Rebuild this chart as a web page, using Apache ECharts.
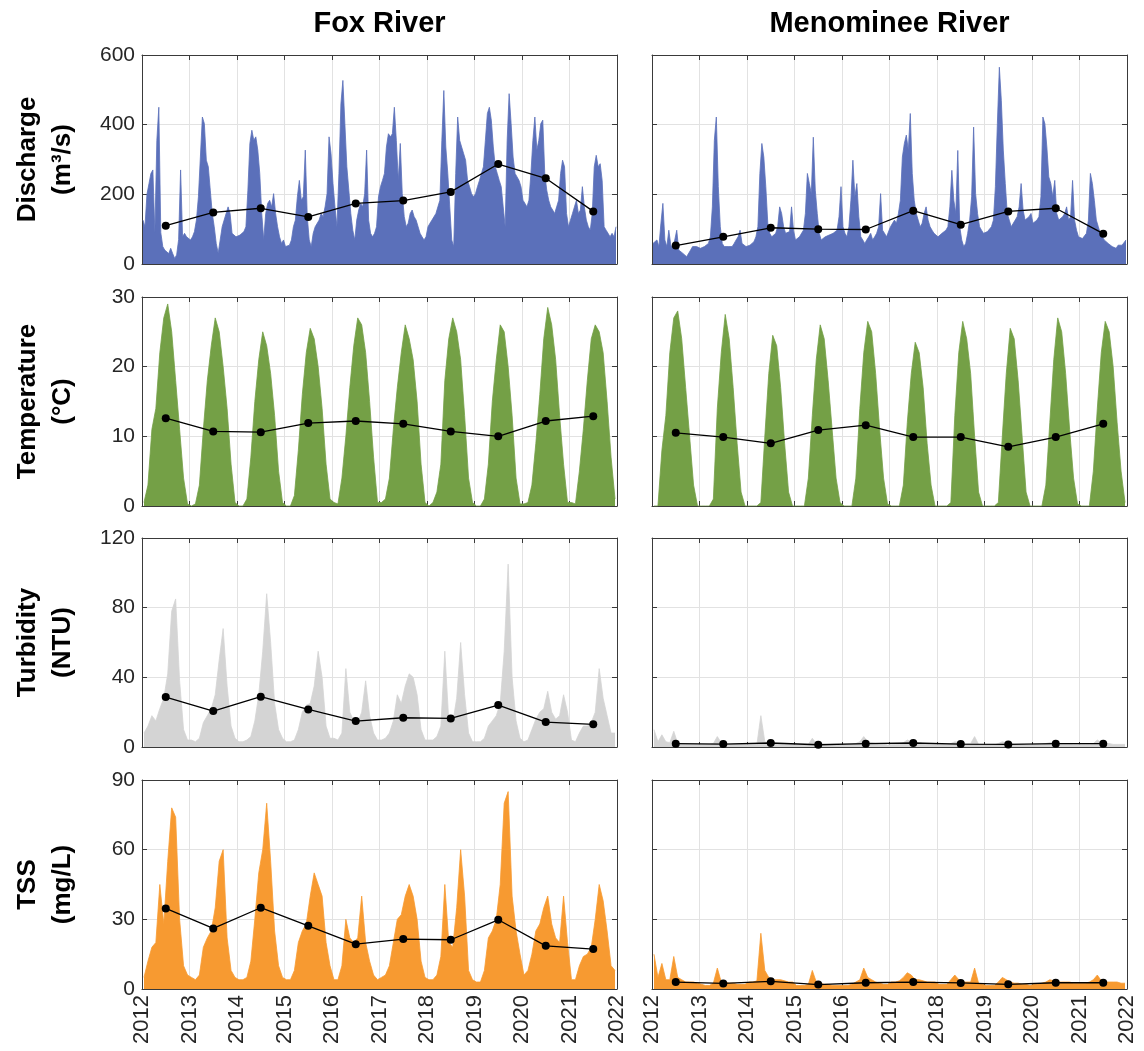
<!DOCTYPE html>
<html><head><meta charset="utf-8">
<script src="https://cdn.jsdelivr.net/npm/echarts@6/dist/echarts.min.js"></script>
<style>html,body{margin:0;padding:0;background:#fff}#c{width:1144px;height:1051px}</style>
</head><body><div id="c"></div>
<script>
// ---------------- DATA ----------------
const years = [2012, 2013, 2014, 2015, 2016, 2017, 2018, 2019, 2020, 2021];
const xTickLabels = ['2012','2013','2014','2015','2016','2017','2018','2019','2020','2021','2022'];
const columnTitles = ['Fox River', 'Menominee River'];
const rowNames = ['Discharge\n(m³/s)', 'Temperature\n(°C)', 'Turbidity\n(NTU)', 'TSS\n(mg/L)'];
const yMax = [600, 30, 120, 90];
const yStep = [200, 10, 40, 30];

// Fox River discharge, half-monthly (24 per year)
const foxDischarge = [
 126,107,200,230,260,270,90,355,450,90,50,40,45,30,45,30,16,26,70,270,78,88,78,83,
 69,78,93,126,193,307,422,403,298,279,212,145,107,59,31,69,107,126,145,164,145,88,83,78,
 78,83,88,93,107,212,346,384,355,365,327,260,145,69,145,174,183,164,202,145,107,78,59,69,
 50,50,54,69,107,126,193,240,183,193,327,136,69,50,88,107,107,126,145,136,164,202,365,317,
 231,164,107,260,460,527,403,279,212,145,97,69,126,155,174,164,202,327,126,88,78,88,107,193,
 222,240,260,336,374,365,374,450,355,240,346,202,136,107,117,145,155,136,126,107,88,78,69,78,
 107,117,126,126,145,164,183,355,498,336,260,164,69,50,260,422,355,336,317,298,240,222,202,193,
 202,222,240,260,279,355,432,450,413,336,279,260,240,222,164,107,355,489,403,307,260,250,240,222,
 183,174,164,183,260,355,422,327,355,403,413,260,212,183,164,155,145,164,183,260,298,279,145,107,
 126,145,164,183,145,155,222,164,126,107,97,145,279,312,279,288,240,107,97,88,78,88,78,107
];
// Menominee River discharge, half-monthly
const menDischarge = [
 59,54,69,50,117,174,69,50,97,54,45,69,97,40,35,31,26,21,26,40,50,45,50,45,
 45,50,50,54,59,78,164,355,422,222,107,59,50,45,50,54,50,59,69,78,97,59,54,50,
 50,54,59,64,78,107,260,346,307,222,117,88,78,78,88,107,164,145,107,88,83,93,164,97,
 69,73,78,78,97,145,260,231,202,364,212,145,88,69,69,78,78,83,88,88,88,97,136,222,
 107,88,78,107,183,298,193,231,136,78,69,59,69,78,88,69,78,88,107,202,97,88,78,83,
 107,107,126,117,145,183,307,346,370,327,432,260,183,145,126,107,117,145,164,126,107,97,88,83,
 78,83,88,88,97,107,164,269,183,145,326,107,69,50,59,88,126,193,393,202,145,107,97,88,
 88,93,97,107,126,222,403,565,470,327,231,145,126,107,107,126,136,164,231,155,126,126,136,145,
 117,122,126,136,193,422,403,336,250,231,193,240,145,126,126,136,145,164,126,136,240,126,97,78,
 78,73,78,88,126,260,231,183,126,107,88,78,69,69,59,54,50,50,45,54,50,54,59,69
];
// Temperature, monthly (12 per year)
const foxTemp = [
 0.5,3,11,14,22,27,29,25,18,11,4,0.3,
 0,0.3,3,11,18,23,27,25,20,14,6,0.5,
 0,0,1,7,15,21,25,23,19,13,5,0.5,
 0,0,1.5,8,16,22,25.5,24,20,14,6,1,
 0.5,0.3,4,10,17,23,27,26,22,15,7,0.5,
 0.5,1,4,11,17,22,26,24,21,15,6,0.5,
 0,0.5,2,6,18,24,27,25,21,13,4,0.5,
 0,0,1,6,15,21,26,25,20,13,4,0.3,
 0.3,0.5,3,9,16,24,28.5,26,21,13,6,0.5,
 0.5,0.3,5,11,18,24,26,25,22,15,7,1
];
const menTemp = [
 0,0,8,13,22,27,28,24,17,10,3,0,
 0,0,0,1,14,22,27.5,24,17,9,2,0,
 0,0,0,0.5,10,19,24.5,23,17,9,2,0,
 0,0,0,4,13,21,26,24,18,11,4,0.5,
 0,0,0,4,14,22,26.5,25,19,11,4,0.3,
 0,0,0,3,12,19,23.5,22,17,9,3,0,
 0,0,0,0.5,13,22,26.5,24,19,10,2,0,
 0,0,0,0.5,10,19,25.5,24,18,10,2,0,
 0,0,0,3,12,21,27,25,19,11,4,0.3,
 0,0,0,5,14,22,26.5,25,20,12,5,0.5
];
// Turbidity, monthly
const foxTurb = [
 8,12,18,15,22,28,42,78,85,38,10,4,
 4,3,5,14,18,22,30,50,68,35,12,5,
 3,3,4,6,15,30,55,88,60,25,10,5,
 3,3,4,10,20,24,25,35,55,40,12,5,
 5,4,8,45,20,15,14,20,38,18,8,4,
 4,5,8,15,30,25,35,42,40,30,10,4,
 4,4,6,12,55,15,14,28,60,30,8,3,
 3,3,5,12,15,18,25,55,105,40,15,5,
 3,4,10,16,20,22,32,20,16,18,30,20,
 4,3,8,12,12,14,20,45,28,18,8,8
];
const menTurb = [
 10,3,7,3,2.5,9,2,1.5,1.5,1.5,1.5,1.5,
 1.5,1.5,1.5,2,6,2.5,2,1.5,1.5,1.5,1.5,1.5,
 1.5,1.5,1.5,18,3,2.5,2,2,2,1.5,1.5,1.5,
 1.2,1.2,1.2,1.5,5,2,1.5,1.5,1.2,1.2,1.2,1.2,
 1.2,1.2,1.5,2,3,6,3,2.5,2,1.5,1.5,1.2,
 1.5,1.5,1.5,2.5,4,3,2.5,2.5,2,2,1.5,1.5,
 1.5,1.5,1.5,2,3,2.5,2,2,2,6,1.5,1.5,
 1.2,1.2,1.2,2,3,2.5,2,1.5,1.5,1.5,1.2,1.2,
 1.5,1.5,1.5,2,2.5,2.5,2,2,2,2,1.5,1.5,
 1.5,1.5,1.5,2,4,2.5,2,2,1.5,1.5,1.5,1.5
];
// TSS, monthly
const foxTSS = [
 5,12,18,20,45,28,55,78,74,30,10,6,
 5,4,6,18,22,25,35,55,60,22,8,5,
 4,4,5,12,30,50,60,80,55,25,10,5,
 4,4,8,20,25,28,40,50,45,40,20,10,
 4,4,10,30,22,20,22,40,20,12,6,4,
 5,6,10,20,30,32,40,45,40,30,12,5,
 4,4,6,14,45,20,18,35,60,40,8,4,
 3,3,8,22,25,30,45,80,85,40,25,15,
 6,8,15,25,28,35,40,28,22,20,40,20,
 4,4,10,14,15,18,30,45,38,25,10,8
];
const menTSS = [
 15,5,11,4,4,14,5,4,3,3,3,2.5,
 2,1.5,1.5,2.5,9,3,3,2.5,2.5,2,2,2,
 3,3,3.5,24,8,5,4,4,4,3.5,3,3,
 1.5,1.5,1.5,2,8,3,2.5,2,2,1.5,1.5,1.5,
 1.5,1.5,2,3,4,9,5,4,3,2.5,2,2,
 3,3,3.5,5,7,6,4,4,3.5,3,3,3,
 2,2,2,4,6,4,3,3,3,9,2.5,2,
 1.5,1.5,1.5,3,5,4,3,2.5,2.5,2,2,1.5,
 2,2,2.5,3,4,3.5,3,3,3,3,2.5,2.5,
 2.5,2.5,3,4,6,3.5,3,3,3,3,2.5,2.5
];
// Annual means (plotted at mid-year)
const foxDischargeMean = [110, 148, 160, 135, 174, 182, 207, 287, 246, 151];
const menDischargeMean = [53, 78, 104, 100, 99, 153, 113, 151, 160, 87];
const foxTempMean = [12.6, 10.7, 10.6, 11.9, 12.2, 11.8, 10.7, 10.0, 12.2, 12.9];
const menTempMean = [10.5, 9.9, 9.0, 10.9, 11.6, 9.9, 9.9, 8.5, 9.9, 11.8];
const foxTurbMean = [28.7, 20.6, 28.9, 21.6, 14.9, 16.8, 16.4, 24.1, 14.3, 13.0];
const menTurbMean = [1.9, 1.7, 2.3, 1.3, 1.9, 2.3, 1.7, 1.5, 1.9, 1.9];
const foxTSSMean = [34.7, 26.1, 35.0, 27.2, 19.3, 21.5, 21.2, 29.8, 18.6, 17.2];
const menTSSMean = [3.0, 2.4, 3.3, 1.9, 2.7, 3.0, 2.6, 2.0, 2.7, 2.7];

// ---------------- LAYOUT / STYLE ----------------
const COLORS = ['#5b70ba', '#74a046', '#d4d4d4', '#f79a31'];
const FONT = '"Liberation Sans", Arial, Helvetica, sans-serif';
const gridLeft = [142, 652], gridTop = [55, 297, 538, 780], GW = 475, GH = 209;
const AXC = '#3a3a3a', TXT = '#262626', SPL = '#e2e2e2';

const panels = [
  [foxDischarge, foxDischargeMean, menDischarge, menDischargeMean],
  [foxTemp, foxTempMean, menTemp, menTempMean],
  [foxTurb, foxTurbMean, menTurb, menTurbMean],
  [foxTSS, foxTSSMean, menTSS, menTSSMean]
];

const grid = [], xAxis = [], yAxis = [], series = [];
const xMin = years[0], xMax = years[years.length - 1] + 1;
for (let r = 0; r < 4; r++) {
  for (let c = 0; c < 2; c++) {
    const gi = grid.length;
    grid.push({left: gridLeft[c], top: gridTop[r], width: GW, height: GH, containLabel: false});
    const baseX = {
      type: 'value', gridIndex: gi, min: xMin, max: xMax, interval: 1,
      axisLine: {show: true, onZero: false, lineStyle: {color: AXC, width: 1}},
      axisTick: {show: true, inside: true, length: 5, lineStyle: {color: AXC}},
    };
    xAxis.push(Object.assign({}, baseX, {
      position: 'bottom',
      axisLabel: {show: r === 3, rotate: 90, margin: 6, fontSize: 22, color: TXT, fontFamily: FONT,
        formatter: v => xTickLabels[Math.round(v - xMin)] || ''},
      splitLine: {show: true, lineStyle: {color: SPL, width: 1}}
    }));
    xAxis.push(Object.assign({}, baseX, {position: 'top', axisLabel: {show: false}, splitLine: {show: false}}));
    const baseY = {
      type: 'value', gridIndex: gi, min: 0, max: yMax[r], interval: yStep[r],
      axisLine: {show: true, onZero: false, lineStyle: {color: AXC, width: 1}},
      axisTick: {show: true, inside: true, length: 5, lineStyle: {color: AXC}},
    };
    const yIdx = yAxis.length;
    yAxis.push(Object.assign({}, baseY, {
      position: 'left',
      name: c === 0 ? rowNames[r] : '',
      nameLocation: 'middle', nameRotate: 90, nameGap: 62,
      nameTextStyle: {fontSize: 26, fontWeight: 'bold', color: '#000', fontFamily: FONT, lineHeight: 35},
      axisLabel: {show: c === 0, fontSize: 21, color: TXT, fontFamily: FONT, margin: 7},
      splitLine: {show: true, lineStyle: {color: SPL, width: 1}}
    }));
    yAxis.push(Object.assign({}, baseY, {position: 'right', axisLabel: {show: false}, splitLine: {show: false}}));

    const vals = panels[r][c * 2];
    const means = panels[r][c * 2 + 1];
    const perYear = vals.length / years.length;
    series.push({
      type: 'line', xAxisIndex: gi * 2, yAxisIndex: yIdx, silent: true, animation: false,
      symbol: 'none', showSymbol: false, z: 1,
      data: vals.map((v, i) => [xMin + (i + 0.5) / perYear, v]),
      lineStyle: {color: COLORS[r], width: 0.8},
      areaStyle: {color: COLORS[r], opacity: 1}
    });
    series.push({
      type: 'line', xAxisIndex: gi * 2, yAxisIndex: yIdx, silent: true, animation: false, z: 5,
      data: years.map((y, i) => [y + 0.5, means[i]]),
      symbol: 'circle', symbolSize: 8,
      itemStyle: {color: '#000'}, lineStyle: {color: '#000', width: 1.3}
    });
  }
}

const graphic = columnTitles.map((t, c) => ({
  type: 'text', x: gridLeft[c] + GW / 2, y: 24, z: 10,
  style: {text: t, fill: '#000', font: 'bold 29px ' + FONT, textAlign: 'center', textVerticalAlign: 'middle'}
}));

const chart = echarts.init(document.getElementById('c'), null, {renderer: 'canvas'});
chart.setOption({animation: false, backgroundColor: '#fff', grid, xAxis, yAxis, series, graphic});
</script>
</body></html>
